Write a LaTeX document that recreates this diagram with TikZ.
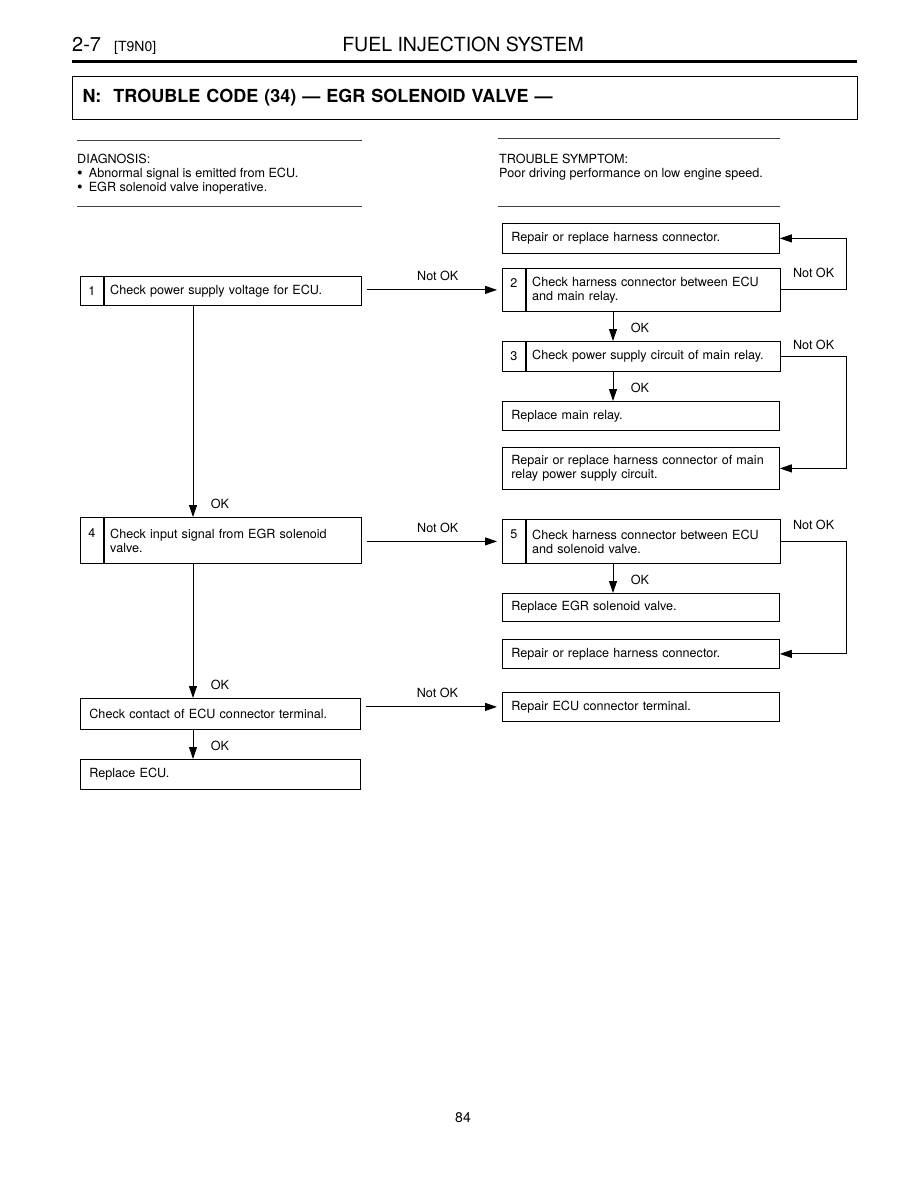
\documentclass[tikz,border=0pt]{standalone}
\usepackage{fontspec}
\setmainfont{TeX Gyre Heros}
\usetikzlibrary{arrows.meta,positioning}

\newcommand{\bodyfont}{\fontsize{12.6}{14}\selectfont}
\newcommand{\bul}{\smash{\raisebox{-1pt}{\fontsize{16}{14}\selectfont\textbullet}}\hspace{6pt}}

\tikzset{
  box/.style={draw, line width=0.8pt, anchor=north west, inner xsep=9pt, inner ysep=2pt,
    text width=#1, align=left, font=\bodyfont},
  numcell/.style={draw, line width=0.8pt, anchor=north west, minimum width=23pt,
    minimum height=#1, inner sep=0pt, align=center, font=\bodyfont},
  arr/.style={line width=1pt, -{Triangle[length=12pt,width=8pt]}},
  oklbl/.style={anchor=west, xshift=14pt, yshift=13pt, font=\bodyfont},
  notok/.style={font=\bodyfont},
  rule/.style={line width=0.6pt, black!75},
}

\begin{document}
\begin{tikzpicture}[x=1pt, y=-1pt]

\useasboundingbox (0,0) rectangle (918,1188);

% Parameters
\def\lx{80}    % left column
\def\rx{502}   % right column
\coordinate (okL) at (193,0);
\coordinate (okR) at (613,0);

% Header
\node[anchor=base west, font=\fontsize{20}{22}\selectfont, inner sep=0pt] (secno) at (72,52) {2-7};
\node[anchor=base west, font=\fontsize{14}{15}\selectfont, inner sep=0pt] (seccode) at (114,52) {[T9N0]};
\node[anchor=base, font=\fontsize{19.5}{20}\selectfont, inner sep=0pt] (sectitle) at (463,52) {FUEL INJECTION SYSTEM};
\draw[line width=3pt] (72,61.5) -- (857,61.5);

\node[draw, line width=1pt, anchor=north west, minimum height=43pt, text width=765pt,
  inner xsep=10pt, font=\bfseries\fontsize{18}{20}\selectfont] (title) at (72,76)
  {N:\ \ TROUBLE CODE (34) — EGR SOLENOID VALVE —};

% Diagnosis / symptom
\draw[rule] (77,140) -- (362,140);
\draw[rule] (77,206) -- (362,206);
\draw[rule] (498,138) -- (780,138);
\draw[rule] (498,206) -- (780,206);
\node[anchor=north west, align=left, inner sep=0pt, font=\bodyfont] (diag) at (77,153.5)
  {DIAGNOSIS:\\ \bul Abnormal signal is emitted from ECU.\\ \bul EGR solenoid valve inoperative.};
\node[anchor=north west, align=left, inner sep=0pt, font=\bodyfont] (symp) at (499,153.5)
  {TROUBLE SYMPTOM:\\ Poor driving performance on low engine speed.};

% Step 1
\node[numcell=29pt] (n1) at (\lx,276) {1};
\node[box=245pt, inner xsep=6pt, minimum height=29pt, right=0pt of n1] (b1) {Check power supply voltage for ECU.};

% Step 2 and its results
\node[box=259pt, minimum height=30pt] (rr1) at (\rx,223) {Repair or replace harness connector.};
\node[numcell=43pt] (n2) at (\rx,268) {2\\\mbox{}};
\node[box=242pt, inner xsep=6pt, minimum height=43pt, right=0pt of n2] (b2) {Check harness connector between ECU\\and main relay.};

% Step 3 and its results
\node[numcell=30pt] (n3) at (\rx,341) {3};
\node[box=242pt, inner xsep=6pt, minimum height=30pt, right=0pt of n3] (b3) {Check power supply circuit of main relay.};
\node[box=259pt, minimum height=29pt] (rm) at (\rx,401) {Replace main relay.};
\node[box=259pt, minimum height=42pt] (rr2) at (\rx,447) {Repair or replace harness connector of main\\relay power supply circuit.};

% Step 4
\node[numcell=46pt] (n4) at (\lx,517) {4\\\mbox{}};
\node[box=245pt, inner xsep=6pt, minimum height=46pt, right=0pt of n4] (b4) {Check input signal from EGR solenoid\\valve.};

% Step 5 and its results
\node[numcell=44pt] (n5) at (\rx,519) {5\\\mbox{}};
\node[box=242pt, inner xsep=6pt, minimum height=44pt, right=0pt of n5] (b5) {Check harness connector between ECU\\and solenoid valve.};
\node[box=259pt, minimum height=28pt] (re) at (\rx,593) {Replace EGR solenoid valve.};
\node[box=259pt, minimum height=29pt] (rr3) at (\rx,639) {Repair or replace harness connector.};

% Last checks
\node[box=262pt, minimum height=31pt] (cc) at (\lx,698) {Check contact of ECU connector terminal.};
\node[box=259pt, minimum height=29pt] (rt) at (\rx,692) {Repair ECU connector terminal.};
\node[box=262pt, minimum height=30pt] (ecu) at (\lx,759) {Replace ECU.};

% Not OK to the right
\draw[arr, shorten <=5pt, shorten >=5pt] (b1.east |- n2.west) -- (n2.west)
  node[notok, midway, above=5pt, xshift=6pt] (nk1) {Not OK};
\draw[arr, shorten <=5pt, shorten >=5pt] (b4.east |- n5.west) -- (n5.west)
  node[notok, midway, above=5pt, xshift=6pt] (nk4) {Not OK};
\draw[arr, shorten <=5pt, shorten >=5pt] (cc.east |- rt.west) -- (rt.west)
  node[notok, midway, above=5pt, xshift=6pt] (nk6) {Not OK};

% Not OK loops
\draw[arr] (b2.east) -- node[notok, above=8pt] (nk2) {Not OK} ++(66,0) |- (rr1.east);
\draw[arr] (b3.east) -- node[notok, above=3pt] (nk3) {Not OK} ++(66,0) |- (rr2.east);
\draw[arr] (b5.east) -- node[notok, above=8pt] (nk5) {Not OK} ++(66,0) |- (rr3.east);

% OK arrows
\draw[arr] (b1.south -| okL) -- (b4.north -| okL) node[oklbl] (ok1) {OK};
\draw[arr] (b4.south -| okL) -- (cc.north -| okL) node[oklbl] (ok4) {OK};
\draw[arr] (cc.south -| okL) -- (ecu.north -| okL) node[oklbl] (ok6) {OK};
\draw[arr] (b2.south -| okR) -- (b3.north -| okR) node[oklbl] (ok2) {OK};
\draw[arr] (b3.south -| okR) -- (rm.north -| okR) node[oklbl] (ok3) {OK};
\draw[arr] (b5.south -| okR) -- (re.north -| okR) node[oklbl] (ok5) {OK};

% Page number
\node[font=\fontsize{14}{16}\selectfont] (pageno) at (463,1118) {84};

\end{tikzpicture}
\end{document}
